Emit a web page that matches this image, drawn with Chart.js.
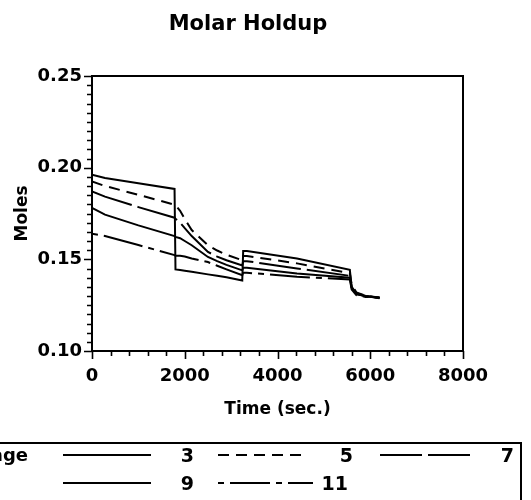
<!DOCTYPE html>
<html>
<head>
<meta charset="utf-8">
<script src="https://cdn.jsdelivr.net/npm/chart.js@4.4.1/dist/chart.umd.min.js"></script>
<style>
html,body{margin:0;padding:0;background:#fff;}
#wrap{position:relative;width:531px;height:500px;overflow:hidden;}
canvas{display:block;}
</style>
</head>
<body>
<div id="wrap"><canvas id="c" width="531" height="500"></canvas></div>
<script>
// ---- data ----
const TITLE = 'Molar Holdup';
const X_TITLE = 'Time (sec.)';
const Y_TITLE = 'Moles';
const LEGEND_TITLE = 'Stage';
const STAGE_LABELS = ['3', '5', '7', '9', '11'];
const X_TICK_LABELS = ['0', '2000', '4000', '6000', '8000'];
const Y_TICK_LABELS = ['0.10', '0.15', '0.20', '0.25'];

const TIMES = [0, 280, 1000, 1780, 1800, 1900, 2000, 2150, 2500, 2700, 2900, 3240, 3260, 3340, 4420, 5560, 5600, 5700, 5900, 6200];

const STAGE_3  = [0.1962, 0.1944, 0.1915, 0.1884, 0.1445, 0.1442, 0.1438, 0.1432, 0.1418, 0.1410, 0.1402, 0.1385, 0.1545, 0.1545, 0.1505, 0.1443, 0.1345, 0.1310, 0.1300, 0.1290];
const STAGE_5  = [0.1925, 0.1900, 0.1852, 0.1798, 0.1795, 0.1765, 0.1720, 0.1660, 0.1577, 0.1548, 0.1525, 0.1495, 0.1518, 0.1518, 0.1478, 0.1425, 0.1360, 0.1320, 0.1302, 0.1290];
const STAGE_7  = [0.1870, 0.1842, 0.1785, 0.1727, 0.1722, 0.1700, 0.1670, 0.1627, 0.1540, 0.1515, 0.1495, 0.1467, 0.1490, 0.1490, 0.1450, 0.1410, 0.1350, 0.1315, 0.1300, 0.1288];
const STAGE_9  = [0.1780, 0.1744, 0.1685, 0.1627, 0.1622, 0.1615, 0.1600, 0.1577, 0.1513, 0.1490, 0.1470, 0.1440, 0.1454, 0.1454, 0.1423, 0.1400, 0.1345, 0.1310, 0.1298, 0.1290];
const STAGE_11 = [0.1640, 0.1627, 0.1578, 0.1523, 0.1520, 0.1520, 0.1515, 0.1505, 0.1485, 0.1465, 0.1445, 0.1413, 0.1427, 0.1427, 0.1405, 0.1390, 0.1335, 0.1305, 0.1295, 0.1292];

const SERIES = [STAGE_3, STAGE_5, STAGE_7, STAGE_9, STAGE_11];
const DASHES = [[], [11, 7], [42, 6], [], [6, 6, 40, 6]];

const FONT = 'DejaVu Sans';

const datasets = SERIES.map((vals, i) => ({
  label: STAGE_LABELS[i],
  data: TIMES.map((t, k) => ({x: t, y: vals[k]})),
  borderColor: '#000',
  borderWidth: 2,
  borderDash: DASHES[i],
  pointRadius: 0,
  fill: false,
  tension: 0
}));

function isMajor(v, step) { return Math.abs(v / step - Math.round(v / step)) < 1e-6; }

const framePlugin = {
  id: 'frame',
  afterDraw(chart) {
    const ctx = chart.ctx;
    const a = chart.chartArea;
    const xs = chart.scales.x, ys = chart.scales.y;
    ctx.save();
    ctx.strokeStyle = '#000';
    ctx.lineWidth = 2;
    ctx.setLineDash([]);
    ctx.strokeRect(a.left, a.top, a.right - a.left, a.bottom - a.top);
    // ticks
    ctx.lineWidth = 1.6;
    ctx.beginPath();
    ys.ticks.forEach(t => {
      const y = Math.round(ys.getPixelForValue(t.value)) + 0.5;
      const len = isMajor(t.value, 0.05) ? 8 : 5;
      ctx.moveTo(a.left, y); ctx.lineTo(a.left - len, y);
    });
    xs.ticks.forEach(t => {
      const x = Math.round(xs.getPixelForValue(t.value)) + 0.5;
      const len = isMajor(t.value, 2000) ? 8 : 5;
      ctx.moveTo(x, a.bottom); ctx.lineTo(x, a.bottom + len);
    });
    ctx.stroke();

    // title
    ctx.fillStyle = '#000';
    ctx.font = 'bold 21px "' + FONT + '"';
    ctx.textAlign = 'center';
    ctx.textBaseline = 'alphabetic';
    ctx.fillText(TITLE, 248, 30);

    // legend
    ctx.lineWidth = 2;
    ctx.strokeRect(-5, 443, 526, 80);
    ctx.font = 'bold 18px "' + FONT + '"';
    ctx.textAlign = 'right';
    ctx.textBaseline = 'middle';
    ctx.fillText(LEGEND_TITLE, 28, 456);
    const slots = [
      {x0: 63, x1: 151, tx: 194, y: 455},
      {x0: 218, x1: 306, tx: 353, y: 455},
      {x0: 380, x1: 473, tx: 514, y: 455},
      {x0: 63, x1: 151, tx: 194, y: 483},
      {x0: 218, x1: 313, tx: 348, y: 483}
    ];
    chart.data.datasets.forEach((ds, i) => {
      const s = slots[i];
      ctx.beginPath();
      ctx.setLineDash(ds.borderDash || []);
      ctx.moveTo(s.x0, s.y); ctx.lineTo(s.x1, s.y);
      ctx.stroke();
      ctx.setLineDash([]);
      ctx.font = 'bold 19px "' + FONT + '"';
      ctx.fillText(ds.label, s.tx, s.y + 2);
    });
    ctx.restore();
  }
};

new Chart(document.getElementById('c'), {
  type: 'line',
  data: {datasets},
  options: {
    responsive: false,
    animation: false,
    events: [],
    layout: {padding: {left: 0, right: 68, top: 76, bottom: 69}},
    plugins: {legend: {display: false}, title: {display: false}, tooltip: {enabled: false}},
    scales: {
      x: {
        type: 'linear', min: 0, max: 8000,
        afterFit: s => { s.height = 80; },
        grid: {display: false, drawTicks: false},
        border: {display: false},
        ticks: {
          stepSize: 400, autoSkip: false, maxRotation: 0, padding: 15,
          color: '#000', font: {family: FONT, size: 18, weight: 'bold'},
          callback: v => isMajor(v, 2000) ? (X_TICK_LABELS.find(l => Number(l) === Math.round(v)) || '') : ''
        },
        title: {display: true, text: X_TITLE, color: '#000', font: {family: FONT, size: 17, weight: 'bold'}, padding: {top: 0, bottom: 11}}
      },
      y: {
        type: 'linear', min: 0.10, max: 0.25,
        afterFit: s => { s.width = 92; },
        grid: {display: false, drawTicks: false},
        border: {display: false},
        ticks: {
          stepSize: 0.005, autoSkip: false, padding: 10,
          color: '#000', font: {family: FONT, size: 18, weight: 'bold'},
          callback: v => isMajor(v, 0.05) ? (Y_TICK_LABELS.find(l => Math.abs(Number(l) - v) < 1e-6) || '') : ''
        },
        title: {display: true, text: Y_TITLE, color: '#000', font: {family: FONT, size: 17, weight: 'bold'}, padding: {top: 12, bottom: 0}}
      }
    }
  },
  plugins: [framePlugin]
});
</script>
</body>
</html>
